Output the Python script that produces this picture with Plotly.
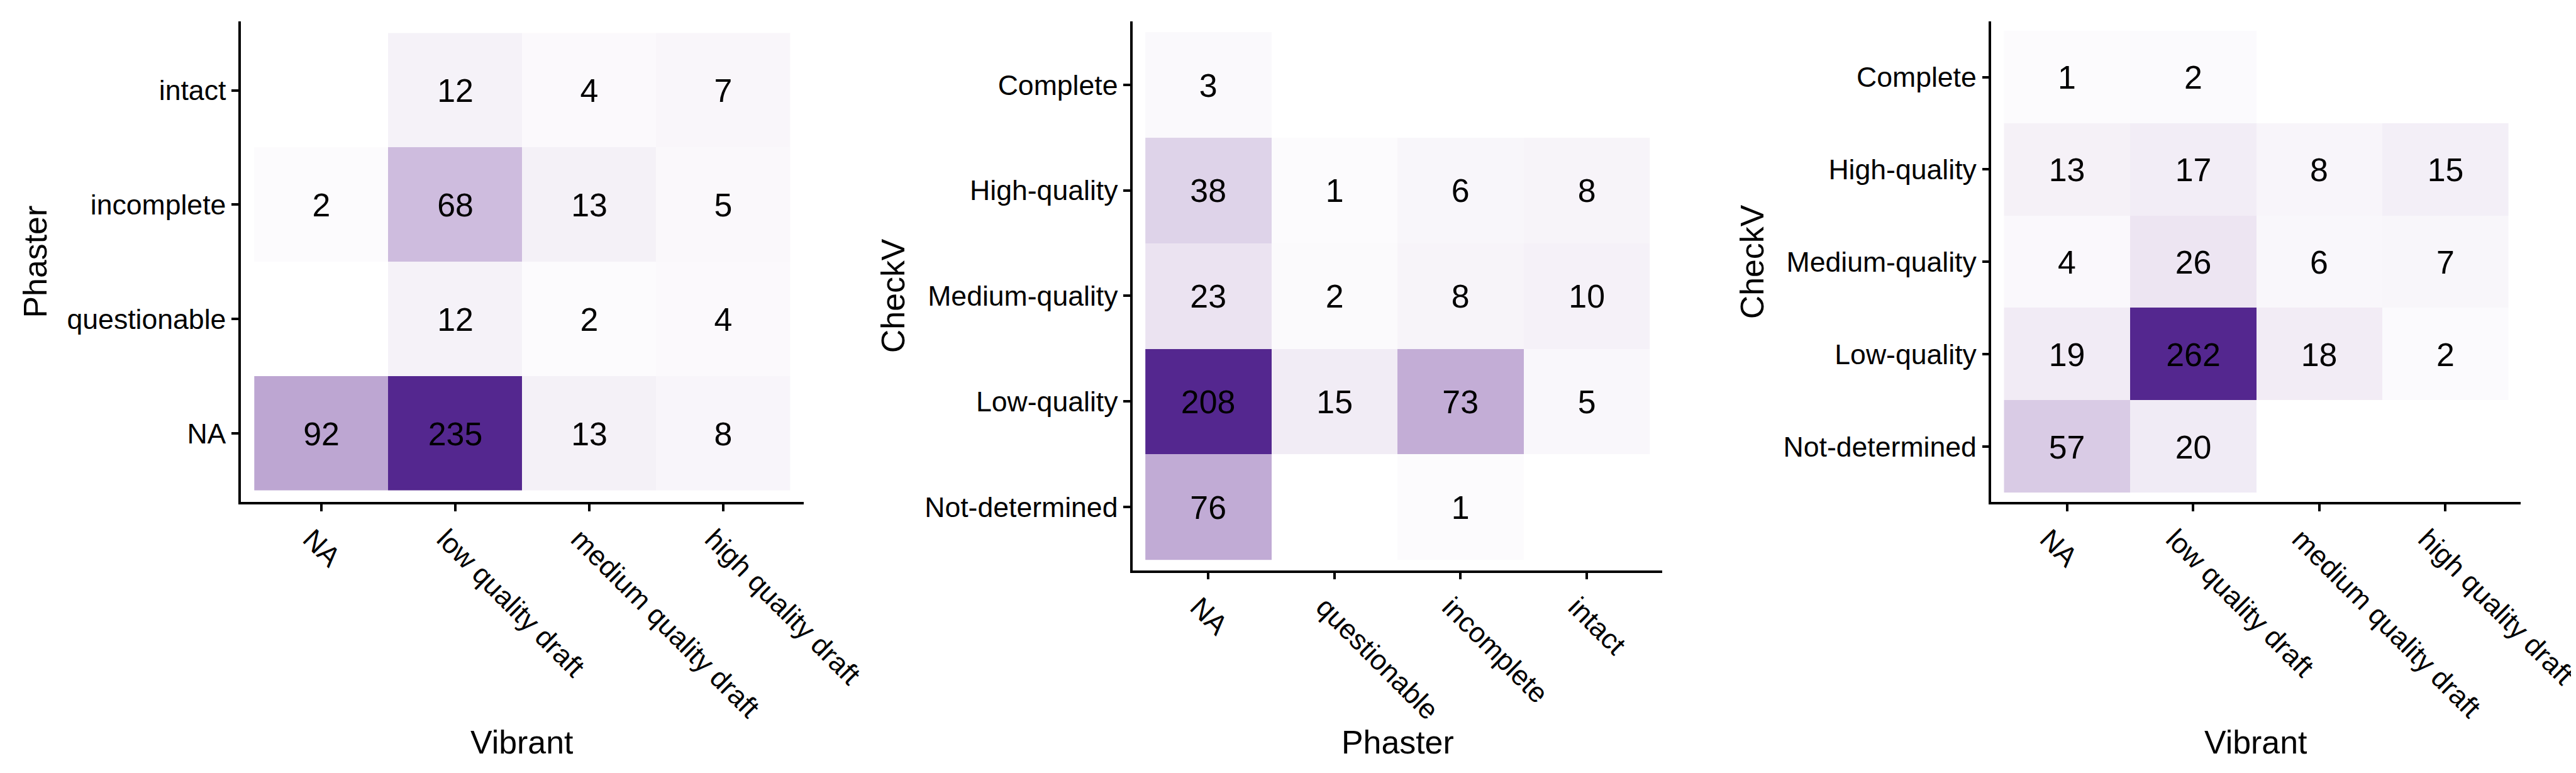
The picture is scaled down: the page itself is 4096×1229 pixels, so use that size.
import plotly.graph_objects as go

# ---------------- data ----------------
vibrant_cats = ["NA", "low quality draft", "medium quality draft", "high quality draft"]
phaster_cats = ["NA", "questionable", "incomplete", "intact"]
checkv_cats = ["Not-determined", "Low-quality", "Medium-quality", "High-quality", "Complete"]

# panel 1: rows = Phaster (bottom->top), cols = Vibrant
p1_na = [92, 235, 13, 8]
p1_questionable = [None, 12, 2, 4]
p1_incomplete = [2, 68, 13, 5]
p1_intact = [None, 12, 4, 7]

# panel 2: rows = CheckV (bottom->top), cols = Phaster
p2_not_determined = [76, None, 1, None]
p2_low = [208, 15, 73, 5]
p2_medium = [23, 2, 8, 10]
p2_high = [38, 1, 6, 8]
p2_complete = [3, None, None, None]

# panel 3: rows = CheckV (bottom->top), cols = Vibrant
p3_not_determined = [57, 20, None, None]
p3_low = [19, 262, 18, 2]
p3_medium = [4, 26, 6, 7]
p3_high = [13, 17, 8, 15]
p3_complete = [1, 2, None, None]

# ---------------- colour ramp (CIELAB, like ggplot's gradient) ----------------
LOW = (252, 251, 253)
HIGH = (84, 39, 143)


def _lin(c):
    c = c / 255.0
    return c / 12.92 if c <= 0.04045 else ((c + 0.055) / 1.055) ** 2.4


def _gam(c):
    c = 12.92 * c if c <= 0.0031308 else 1.055 * c ** (1 / 2.4) - 0.055
    return max(0, min(255, round(c * 255)))


def rgb2lab(rgb):
    r, g, b = (_lin(v) for v in rgb)
    x = (0.4124 * r + 0.3576 * g + 0.1805 * b) / 0.95047
    y = (0.2126 * r + 0.7152 * g + 0.0722 * b)
    z = (0.0193 * r + 0.1192 * g + 0.9505 * b) / 1.08883
    f = lambda t: t ** (1 / 3) if t > 0.008856 else 7.787 * t + 16 / 116
    fx, fy, fz = f(x), f(y), f(z)
    return (116 * fy - 16, 500 * (fx - fy), 200 * (fy - fz))


def lab2rgb(lab):
    L, a, b = lab
    fy = (L + 16) / 116
    fx = fy + a / 500
    fz = fy - b / 200
    finv = lambda t: t ** 3 if t ** 3 > 0.008856 else (t - 16 / 116) / 7.787
    x, y, z = finv(fx) * 0.95047, finv(fy), finv(fz) * 1.08883
    r = 3.2406 * x - 1.5372 * y - 0.4986 * z
    g = -0.9689 * x + 1.8758 * y + 0.0415 * z
    bb = 0.0557 * x - 0.2040 * y + 1.0570 * z
    return "rgb(%d,%d,%d)" % (_gam(r), _gam(g), _gam(bb))


la, lb = rgb2lab(LOW), rgb2lab(HIGH)
N = 20
colorscale = []
for i in range(N + 1):
    t = i / N
    colorscale.append([t, lab2rgb(tuple(la[k] + (lb[k] - la[k]) * t for k in range(3)))])

# ---------------- layout geometry (reference px, 4500x1350) ----------------
W, H = 4500, 1350
S = 0.91
FONT = "Liberation Sans, Arial, Helvetica, sans-serif"
TICK_SIZE = 49 * S
CELL_SIZE = 57 * S
TITLE_SIZE = 57 * S

panels = [
    dict(x0=412, x1=1395, ybot=868, ytop=29, xcats=vibrant_cats, ycats=phaster_cats,
         rows=[p1_na, p1_questionable, p1_incomplete, p1_intact],
         xtitle="Vibrant", ytitle="Phaster", ytitle_x=53, shift=-16),
    dict(x0=1970, x1=2895, ybot=987, ytop=29, xcats=phaster_cats, ycats=checkv_cats,
         rows=[p2_not_determined, p2_low, p2_medium, p2_high, p2_complete],
         xtitle="Phaster", ytitle="CheckV", ytitle_x=1552, shift=-16),
    dict(x0=3470, x1=4395, ybot=868, ytop=29, xcats=vibrant_cats, ycats=checkv_cats,
         rows=[p3_not_determined, p3_low, p3_medium, p3_high, p3_complete],
         xtitle="Vibrant", ytitle="CheckV", ytitle_x=3052, shift=-30),
]
XTITLE_Y = 1287

fig = go.Figure()
annotations = []
for i, p in enumerate(panels, start=1):
    vals = [v for r in p["rows"] for v in r if v is not None]
    text = [["" if v is None else str(v) for v in r] for r in p["rows"]]
    sfx = "" if i == 1 else str(i)
    fig.add_trace(go.Heatmap(
        z=p["rows"], x=p["xcats"], y=p["ycats"], text=text,
        texttemplate="%{text}", textfont=dict(family=FONT, size=CELL_SIZE, color="black"),
        colorscale=colorscale, zmin=min(vals), zmax=max(vals), showscale=False,
        hoverongaps=False, xaxis="x" + sfx, yaxis="y" + sfx,
    ))
    axis_common = dict(
        type="category", showline=True, linecolor="black", linewidth=4 * S,
        ticks="outside", ticklen=12 * S, tickwidth=4 * S, tickcolor="black",
        showgrid=False, zeroline=False, mirror=False, automargin=False,
        tickfont=dict(family=FONT, size=TICK_SIZE, color="black"),
    )
    fig.layout["xaxis" + sfx] = dict(
        axis_common, domain=[p["x0"] / W, p["x1"] / W], anchor="y" + sfx,
        range=[-0.6, len(p["xcats"]) - 0.4], tickangle=45, ticklabelshift=p["shift"],
        categoryorder="array", categoryarray=p["xcats"],
    )
    fig.layout["yaxis" + sfx] = dict(
        axis_common, domain=[1 - p["ybot"] / H, 1 - p["ytop"] / H], anchor="x" + sfx,
        range=[-0.6, len(p["ycats"]) - 0.4],
        categoryorder="array", categoryarray=p["ycats"],
    )
    annotations.append(dict(
        text=p["xtitle"], xref="paper", yref="paper",
        x=(p["x0"] + p["x1"]) / 2 / W, y=1 - XTITLE_Y / H,
        xanchor="center", yanchor="middle", showarrow=False,
        font=dict(family=FONT, size=TITLE_SIZE, color="black"),
    ))
    annotations.append(dict(
        text=p["ytitle"], xref="paper", yref="paper",
        x=p["ytitle_x"] / W, y=1 - (p["ybot"] + p["ytop"]) / 2 / H,
        xanchor="center", yanchor="middle", showarrow=False, textangle=-90,
        font=dict(family=FONT, size=TITLE_SIZE, color="black"),
    ))

fig.update_layout(
    width=4096, height=1229, margin=dict(l=0, r=0, t=0, b=0),
    paper_bgcolor="white", plot_bgcolor="white",
    annotations=annotations, font=dict(family=FONT, color="black"),
)

fig.write_html("out.html")
